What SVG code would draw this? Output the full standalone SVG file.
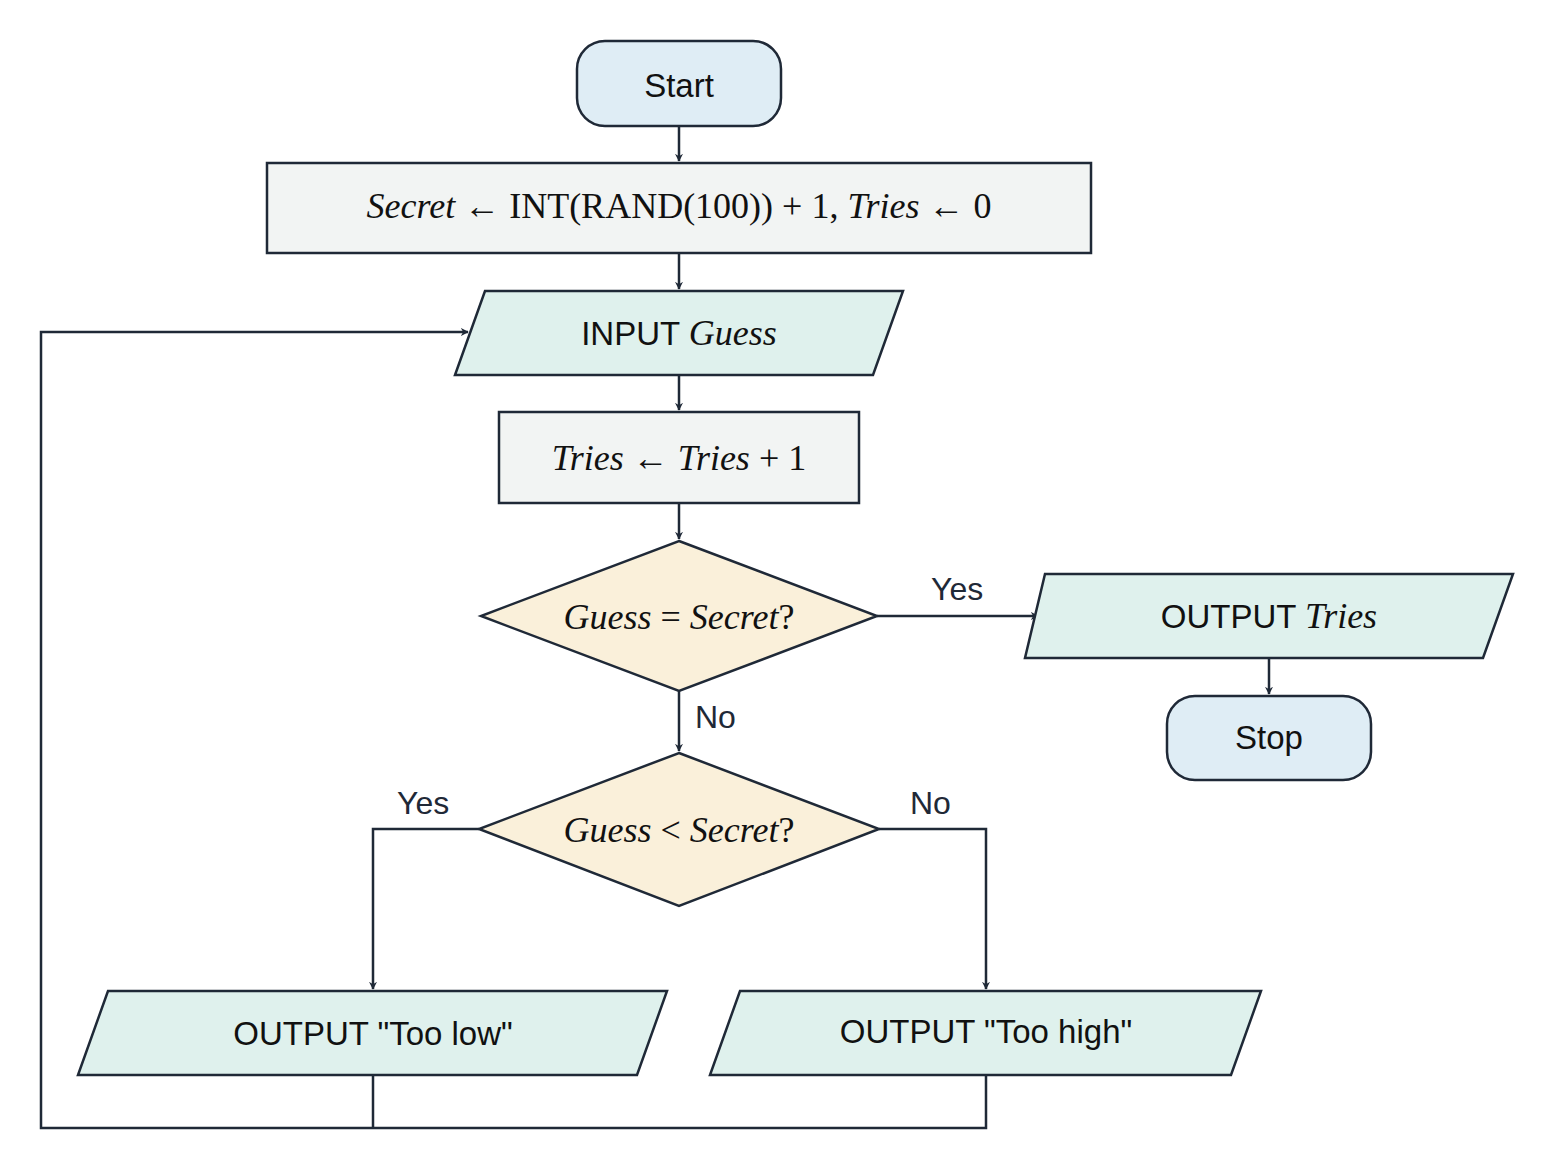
<svg xmlns="http://www.w3.org/2000/svg" width="1555" height="1170" viewBox="0 0 1555 1170">
<style>
.s{stroke:#1f2937;stroke-width:2.5}
.term{fill:#dfedf5}
.proc{fill:#f2f4f3}
.io{fill:#dff1ed}
.dec{fill:#faf0da}
.t{font-family:"Liberation Sans",Arial,sans-serif;font-size:33px;fill:#111;text-anchor:middle;dominant-baseline:central}
.m{font-family:"Liberation Serif","Times New Roman",serif;font-size:36px;fill:#111}
.i{font-style:italic}
.l{font-family:"Liberation Sans",Arial,sans-serif;font-size:32px;fill:#1f2937}
.c{fill:none;stroke:#1f2937;stroke-width:2.5}
</style>
<defs><marker id="a" viewBox="0 0 10 10" refX="9" refY="5" markerWidth="8" markerHeight="8" markerUnits="userSpaceOnUse" orient="auto"><path d="M0,0 L10,5 L0,10 L3,5 Z" fill="#1f2937"/></marker></defs>
<g id="connectors">
<path class="c" d="M679,126 V161" marker-end="url(#a)"/>
<path class="c" d="M679,253 V289" marker-end="url(#a)"/>
<path class="c" d="M679,375 V410" marker-end="url(#a)"/>
<path class="c" d="M679,503 V539" marker-end="url(#a)"/>
<path class="c" d="M877,616 H1038" marker-end="url(#a)"/>
<path class="c" d="M1269,658 V694" marker-end="url(#a)"/>
<path class="c" d="M679,691 V751" marker-end="url(#a)"/>
<path class="c" d="M479,829 H373 V989" marker-end="url(#a)"/>
<path class="c" d="M879,829 H986 V989" marker-end="url(#a)"/>
<path class="c" d="M373,1075 V1128"/>
<path class="c" d="M986,1075 V1128 H41 V332 H468" marker-end="url(#a)"/>
<text class="l" x="931" y="600">Yes</text>
<text class="l" x="695" y="728">No</text>
<text class="l" x="397" y="814">Yes</text>
<text class="l" x="910" y="814">No</text>
</g>
<g id="start"><rect class="s term" x="577" y="41" width="204" height="85" rx="28"/><text class="t" x="679" y="85">Start</text></g>
<g id="init"><rect class="s proc" x="267" y="163" width="824" height="90"/><text class="m" x="679" y="218" text-anchor="middle"><tspan class="i">Secret</tspan> ← INT(RAND(100)) + 1,   <tspan class="i">Tries</tspan> ← 0</text></g>
<g id="input"><polygon class="s io" points="485,291 903,291 873,375 455,375"/><text class="m" x="679" y="345" text-anchor="middle"><tspan font-family="Liberation Sans,Arial,sans-serif" font-size="33">INPUT </tspan><tspan class="i">Guess</tspan></text></g>
<g id="inc"><rect class="s proc" x="499" y="412" width="360" height="91"/><text class="m" x="679" y="470" text-anchor="middle"><tspan class="i">Tries</tspan> ← <tspan class="i">Tries</tspan> + 1</text></g>
<g id="dec1"><polygon class="s dec" points="679,541 877,616 679,691 481,616"/><text class="m" x="679" y="629" text-anchor="middle"><tspan class="i">Guess</tspan> = <tspan class="i">Secret</tspan>?</text></g>
<g id="outTries"><polygon class="s io" points="1045,574 1513,574 1483,658 1025,658"/><text class="m" x="1269" y="628" text-anchor="middle"><tspan font-family="Liberation Sans,Arial,sans-serif" font-size="33">OUTPUT </tspan><tspan class="i">Tries</tspan></text></g>
<g id="stop"><rect class="s term" x="1167" y="696" width="204" height="84" rx="28"/><text class="t" x="1269" y="737">Stop</text></g>
<g id="dec2"><polygon class="s dec" points="679,753 879,829 679,906 479,829"/><text class="m" x="679" y="842" text-anchor="middle"><tspan class="i">Guess</tspan> &lt; <tspan class="i">Secret</tspan>?</text></g>
<g id="low"><polygon class="s io" points="108,991 667,991 637,1075 78,1075"/><text class="t" x="373" y="1033">OUTPUT "Too low"</text></g>
<g id="high"><polygon class="s io" points="740,991 1261,991 1231,1075 710,1075"/><text class="t" x="986" y="1031">OUTPUT "Too high"</text></g>
</svg>
